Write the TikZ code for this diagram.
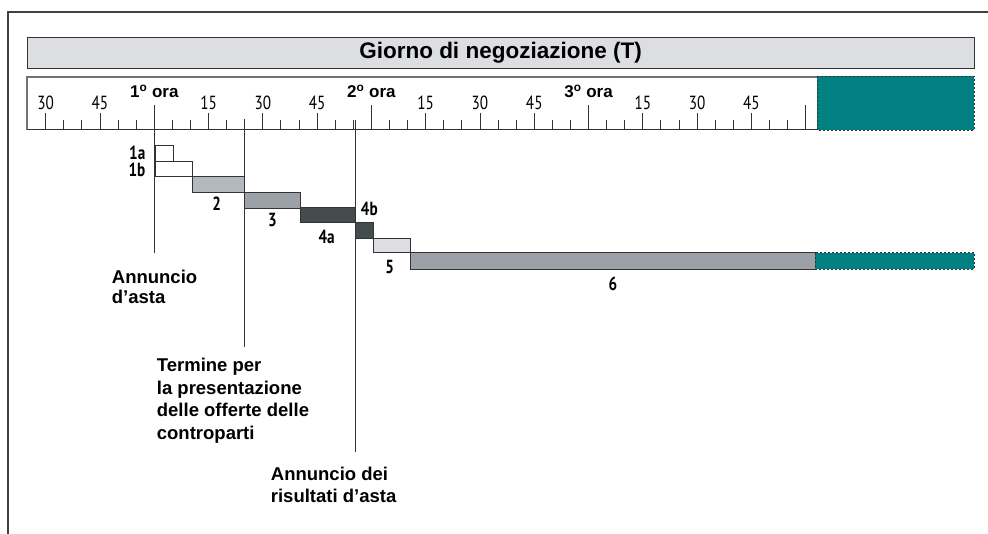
\documentclass[tikz,border=0pt]{standalone}
\usepackage{fontspec}
\setmainfont{Liberation Sans}
\newfontfamily\gill[FakeStretch=0.8]{PT Sans}
\usepackage{tikz}
\usetikzlibrary{positioning}

\definecolor{fondo}{HTML}{DCDEE2}
\definecolor{petrolio}{HTML}{008080}
\definecolor{grigioA}{HTML}{B3B8BE}
\definecolor{grigioB}{HTML}{9CA1A7}
\definecolor{scuro}{HTML}{454C4E}
\definecolor{linea}{HTML}{333333}

\tikzset{fase/.style={draw=linea, line width=0.9pt, anchor=north west,
            inner sep=0pt, outer sep=0pt},
         tratteggio/.style={draw=linea, line width=0.9pt,
            dash pattern=on 2pt off 2pt},
         numfase/.style={font=\gill\bfseries\fontsize{19}{19}\selectfont,
            inner sep=0pt},
         minuto/.style={font=\gill\fontsize{19}{19}\selectfont, anchor=base,
            inner sep=0pt},
         ora/.style={font=\bfseries\fontsize{17}{17}\selectfont, anchor=base,
            inner sep=0pt},
         nota/.style={font=\bfseries\fontsize{18.5}{22.5}\selectfont,
            align=left, anchor=base west, inner sep=0pt},
         segno/.style={draw=linea, line width=0.9pt}}

\begin{document}
\begin{tikzpicture}[x=1pt, y=-1pt]
   \useasboundingbox (0,0) rectangle (988,534);
   % cornice
   \draw[line width=1.6pt, draw=black!75] (8,534) -- (8,12) -- (988,12);
   % titolo
   \node[draw=linea, line width=0.9pt, fill=fondo, minimum width=947pt,
         minimum height=31pt, inner sep=0pt,
         font=\bfseries\fontsize{22.5}{22.5}\selectfont] (titolo) at (500.5,52.7)
         {Giorno di negoziazione (T)};
   % scala dei minuti
   \draw[draw=black!55, line width=1.6pt] (27,130) -- (27,77) -- (817,77);
   \node[fase, fill=petrolio, draw=none, minimum width=157pt,
         minimum height=54pt] (extra) at (817,76) {};
   \draw[tratteggio] (extra.north west) rectangle (extra.south east);
   \draw[segno] (27,129.5) -- (817,129.5);
   \foreach \i in {0,...,42}
      \draw[segno] (45.7+\i*18.095,120) -- (45.7+\i*18.095,129.5);
   \foreach \i in {0,3,...,42}
      \draw[segno] (45.7+\i*18.095,113) -- (45.7+\i*18.095,129.5);
   \foreach \i in {6,18,30,42}
      \draw[segno] (45.7+\i*18.095,105) -- (45.7+\i*18.095,129.5);
   \foreach \i/\lab in {0/30,3/45,9/15,12/30,15/45,21/15,24/30,27/45,33/15,36/30,39/45}
      \node[minuto] (min-\i) at (45.7+\i*18.095,109.3) {\lab};
   \foreach \i/\h in {6/1,18/2,30/3}
      \node[ora] (ora-\h) at (45.7+\i*18.095,97.3) {\h\textsuperscript{o} ora};
   % fasi
   \node[fase, minimum width=18.3pt, minimum height=16pt] (f1a) at (155,145.7) {};
   \node[fase, minimum width=37.3pt, minimum height=15pt] (f1b) at (155,161.7) {};
   \node[fase, fill=grigioA, minimum width=52pt, minimum height=15.3pt] (f2) at (192.3,176.7) {};
   \node[fase, fill=grigioB, minimum width=56.4pt, minimum height=15.7pt] (f3) at (244.3,192.4) {};
   \node[fase, fill=scuro, minimum width=54.8pt, minimum height=15pt] (f4a) at (300.7,207.7) {};
   \node[fase, fill=scuro, minimum width=17.8pt, minimum height=15.6pt] (f4b) at (355.5,222.7) {};
   \node[fase, fill=fondo, minimum width=36.7pt, minimum height=14.4pt] (f5) at (373.3,238.3) {};
   \node[fase, fill=grigioB, minimum width=405pt, minimum height=16.3pt] (f6) at (410,252.7) {};
   \node[fase, fill=petrolio, draw=none, minimum width=159pt, minimum height=16.3pt] (f6b) at (815,252.7) {};
   \draw[tratteggio] (f6b.north west) rectangle (f6b.south east);
   \node[numfase, anchor=base east] (n1a) at (145.5,159.3) {1a};
   \node[numfase, anchor=base east] (n1b) at (145.5,176.7) {1b};
   \node[numfase, anchor=base] (n2) at (216.7,211) {2};
   \node[numfase, anchor=base] (n3) at (272.5,226.7) {3};
   \node[numfase, anchor=base] (n4a) at (326.7,243.3) {4a};
   \node[numfase, anchor=base west] (n4b) at (360.7,215.7) {4b};
   \node[numfase, anchor=base] (n5) at (389.7,273.3) {5};
   \node[numfase, anchor=base] (n6) at (613,290.7) {6};
   % eventi (base = ultima riga)
   \node[nota, font=\bfseries\fontsize{18.5}{20}\selectfont] (annuncio) at (111.7,303.3)
      {Annuncio\\d'asta};
   \node[nota] (termine) at (156.7,439.2)
      {Termine per\\la presentazione\\delle offerte delle\\controparti};
   \node[nota] (risultati) at (270.7,502.5)
      {Annuncio dei\\risultati d'asta};
   \coordinate (t1) at (154.3,105);
   \coordinate (t2) at (244.5,119.3);
   \coordinate (t3) at (355.3,120);
   \coordinate (e1) at (154.3,253);
   \coordinate (e2) at (244.5,346.7);
   \coordinate (e3) at (355.3,451.7);
   \draw[segno] (t1) -- (e1);
   \draw[segno] (t2) -- (e2);
   \draw[segno] (t3) -- (e3);
\end{tikzpicture}
\end{document}
